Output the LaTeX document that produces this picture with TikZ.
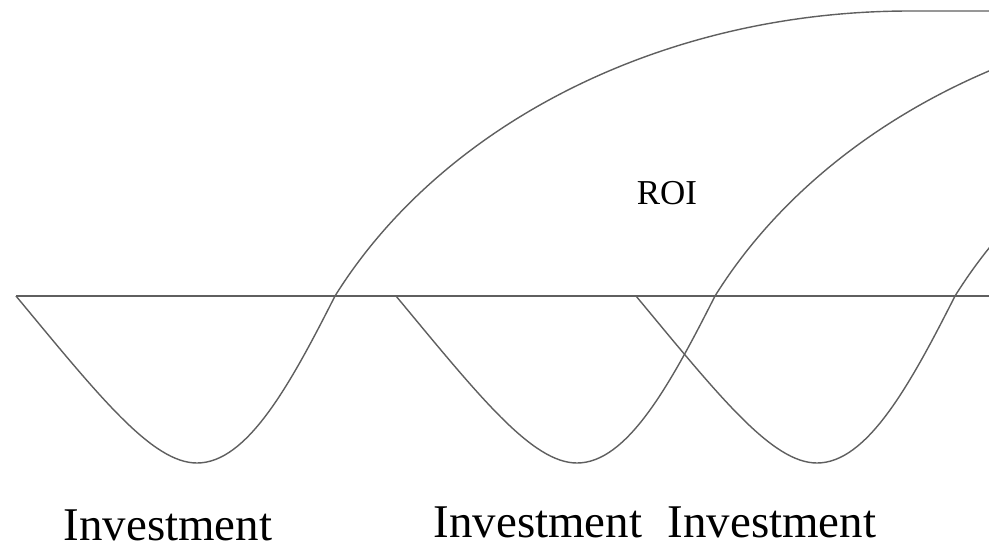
\documentclass[tikz,border=0pt]{standalone}
\usepackage{fontspec}
\setmainfont{Liberation Serif}
\usepackage{tikz}
\usetikzlibrary{calc}
\definecolor{linegray}{RGB}{95,95,95}
\tikzset{
  wave/.style={draw=linegray, line width=0.8pt},
  baseline axis/.style={draw=linegray, line width=0.9pt},
  roi label/.style={font=\fontsize{19.9}{24}\selectfont, inner sep=0pt},
  invest label/.style={font=\fontsize{26.7}{32}\selectfont, inner sep=0pt, anchor=base},
}

\begin{document}
\begin{tikzpicture}[x=0.02cm, y=0.02cm]
  \useasboundingbox (0,0) rectangle (989,549);
  \clip (0,0) rectangle (989,549);
  % zero line
  \draw[baseline axis] (16,253) -- (989,253);
  % one wave per investment
  \foreach \s in {0,380,620} {
    \draw[wave, xshift=\s*0.02cm] (16,253)
      .. controls (99,153) and (152,86) .. (197,86)
      .. controls (247,86) and (290,164) .. (335,253)
      .. controls (441,423) and (660,538) .. (910,538)
      -- (1100,538);
  }
  \node[roi label] (roi) at (667,356) {ROI};
  \node[invest label] (inv1) at (168,9) {Investment};
  \node[invest label] (inv2) at (538,12) {Investment};
  \node[invest label] (inv3) at (772,12) {Investment};
\end{tikzpicture}
\end{document}
